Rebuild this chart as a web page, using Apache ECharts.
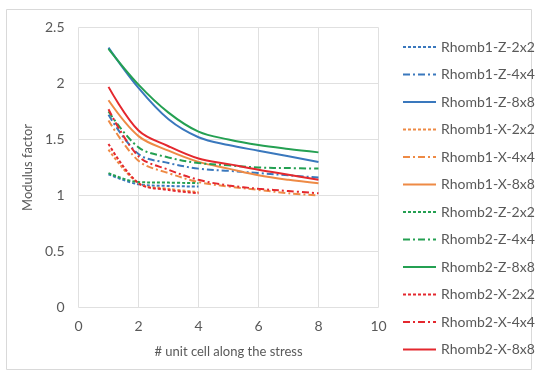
<!DOCTYPE html>
<html>
<head>
<meta charset="utf-8">
<script src="https://cdn.jsdelivr.net/npm/echarts@6/dist/echarts.min.js"></script>
<style>html,body{margin:0;padding:0;background:#fff;}#c{width:535px;height:373px;}</style>
</head>
<body>
<div id="c"></div>
<script>
// x positions (# unit cell along the stress)
var xShort = [1, 2, 3, 4];
var xLong = [1, 2, 3, 4, 5, 6, 7, 8];

var seriesNames = [
  'Rhomb1-Z-2x2', 'Rhomb1-Z-4x4', 'Rhomb1-Z-8x8',
  'Rhomb1-X-2x2', 'Rhomb1-X-4x4', 'Rhomb1-X-8x8',
  'Rhomb2-Z-2x2', 'Rhomb2-Z-4x4', 'Rhomb2-Z-8x8',
  'Rhomb2-X-2x2', 'Rhomb2-X-4x4', 'Rhomb2-X-8x8'
];

var rhomb1Z2 = [1.19, 1.10, 1.085, 1.08];
var rhomb1Z4 = [1.72, 1.37, 1.29, 1.24, 1.22, 1.20, 1.18, 1.16];
var rhomb1Z8 = [2.32, 1.96, 1.68, 1.52, 1.45, 1.40, 1.35, 1.30];
var rhomb1X2 = [1.41, 1.11, 1.06, 1.03];
var rhomb1X4 = [1.67, 1.31, 1.20, 1.12, 1.08, 1.05, 1.02, 1.00];
var rhomb1X8 = [1.85, 1.53, 1.40, 1.30, 1.24, 1.18, 1.14, 1.11];
var rhomb2Z2 = [1.20, 1.12, 1.115, 1.11];
var rhomb2Z4 = [1.75, 1.43, 1.34, 1.29, 1.27, 1.25, 1.245, 1.24];
var rhomb2Z8 = [2.31, 1.99, 1.74, 1.57, 1.50, 1.45, 1.415, 1.385];
var rhomb2X2 = [1.46, 1.11, 1.05, 1.02];
var rhomb2X4 = [1.77, 1.35, 1.23, 1.14, 1.09, 1.06, 1.04, 1.02];
var rhomb2X8 = [1.97, 1.58, 1.44, 1.33, 1.28, 1.23, 1.185, 1.14];

var xTicks = [0, 2, 4, 6, 8, 10];
var yTicks = [0, 0.5, 1, 1.5, 2, 2.5];

var BLUE = '#3a78bd', ORANGE = '#ee8a45', GREEN = '#24a052', RED = '#e4282e';
var DASH = [3, 2];
var DASHDOT = [7, 3, 2, 3];

function pair(xs, ys) { return xs.map(function (x, i) { return [x, ys[i]]; }); }

var specs = [
  [rhomb1Z2, xShort, BLUE, DASH],
  [rhomb1Z4, xLong, BLUE, DASHDOT],
  [rhomb1Z8, xLong, BLUE, 'solid'],
  [rhomb1X2, xShort, ORANGE, DASH],
  [rhomb1X4, xLong, ORANGE, DASHDOT],
  [rhomb1X8, xLong, ORANGE, 'solid'],
  [rhomb2Z2, xShort, GREEN, DASH],
  [rhomb2Z4, xLong, GREEN, DASHDOT],
  [rhomb2Z8, xLong, GREEN, 'solid'],
  [rhomb2X2, xShort, RED, DASH],
  [rhomb2X4, xLong, RED, DASHDOT],
  [rhomb2X8, xLong, RED, 'solid']
];

var series = specs.map(function (s, i) {
  return {
    name: seriesNames[i],
    type: 'line',
    data: pair(s[1], s[0]),
    smooth: 0.35,
    symbol: 'none',
    showSymbol: false,
    color: s[2],
    lineStyle: { color: s[2], width: 2, type: s[3] },
    itemStyle: { color: s[2] },
    z: 3
  };
});

var FONT = 'Lato';
var chart = echarts.init(document.getElementById('c'));
chart.setOption({
  animation: false,
  backgroundColor: '#fff',
  graphic: [{
    type: 'rect',
    shape: { x: 6.5, y: 9.5, width: 525, height: 360 },
    style: { fill: 'none', stroke: '#d9d9d9', lineWidth: 1 },
    silent: true, z: -10
  }],
  grid: { left: 78.5, right: 156.5, top: 27.5, bottom: 65.5, containLabel: false },
  legend: {
    orient: 'vertical',
    left: 397,
    top: 35,
    padding: 5,
    itemWidth: 33,
    itemHeight: 14,
    itemGap: 13.5,
    itemStyle: { opacity: 0 },
    textStyle: { color: '#595959', fontSize: 14, fontFamily: FONT },
    data: seriesNames
  },
  xAxis: {
    type: 'value',
    min: xTicks[0], max: xTicks[xTicks.length - 1], interval: 2,
    name: '# unit cell along the stress',
    nameLocation: 'middle',
    nameGap: 38,
    nameTextStyle: { color: '#595959', fontSize: 13, fontFamily: FONT },
    axisLine: { show: false },
    axisTick: { show: false },
    axisLabel: { color: '#595959', fontSize: 14, fontFamily: FONT, margin: 12 },
    splitLine: { show: true, lineStyle: { color: '#e0e0e0', width: 1 } }
  },
  yAxis: {
    type: 'value',
    min: yTicks[0], max: yTicks[yTicks.length - 1], interval: 0.5,
    name: 'Modulus factor',
    nameLocation: 'middle',
    nameGap: 42,
    nameTextStyle: { color: '#595959', fontSize: 13, fontFamily: FONT },
    axisLine: { show: false },
    axisTick: { show: false },
    axisLabel: { color: '#595959', fontSize: 14, fontFamily: FONT, margin: 14 },
    splitLine: { show: true, lineStyle: { color: '#e0e0e0', width: 1 } }
  },
  series: series
});
</script>
</body>
</html>
